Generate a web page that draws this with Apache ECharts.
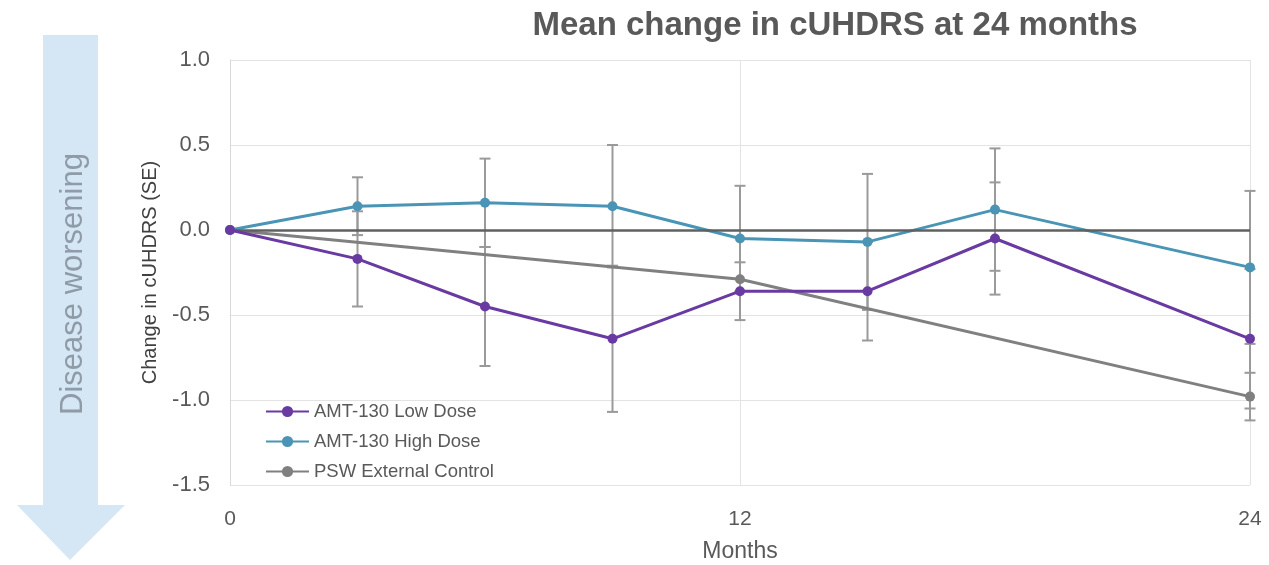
<!DOCTYPE html>
<html>
<head>
<meta charset="utf-8">
<script src="https://cdn.jsdelivr.net/npm/echarts@6/dist/echarts.min.js"></script>
<style>
html,body{margin:0;padding:0;background:#fff;}
#chart{width:1269px;height:565px;}
</style>
</head>
<body>
<div id="chart"></div>
<script>
// ---- data ----
const months = [0, 3, 6, 9, 12, 15, 18, 24];
const lowDose = [0, -0.17, -0.45, -0.64, -0.36, -0.36, -0.05, -0.64];
const lowDoseSE = [null, 0.28, 0.35, 0.43, 0.17, 0.29, 0.33, 0.41];
const highDose = [0, 0.14, 0.16, 0.14, -0.05, -0.07, 0.12, -0.22];
const highDoseSE = [null, 0.17, 0.26, 0.36, 0.31, 0.40, 0.36, 0.45];
const pswMonths = [0, 12, 24];
const psw = [0, -0.29, -0.98];
const pswSE = [null, null, 0.14];
const xTicks = [0, 12, 24];
const seriesNames = ['AMT-130 Low Dose', 'AMT-130 High Dose', 'PSW External Control'];

const colors = ['#6a3aa3', '#4a94b6', '#808080'];

function pairs(xs, ys) { return xs.map((x, i) => [x, ys[i]]); }
function errData(xs, ys, se) {
  const out = [];
  xs.forEach((x, i) => { if (se[i] != null) out.push([x, ys[i] + se[i], ys[i] - se[i]]); });
  return out;
}
const allErr = [].concat(
  errData(months, highDose, highDoseSE),
  errData(months, lowDose, lowDoseSE),
  errData(pswMonths, psw, pswSE)
);

function renderErr(params, api) {
  const x = api.value(0);
  const top = api.coord([x, api.value(1)]);
  const bot = api.coord([x, api.value(2)]);
  const hw = 5.5;
  const style = { stroke: '#9a9a9a', lineWidth: 2 };
  return {
    type: 'group',
    children: [
      { type: 'line', shape: { x1: top[0], y1: top[1], x2: bot[0], y2: bot[1] }, style: style },
      { type: 'line', shape: { x1: top[0] - hw, y1: top[1], x2: top[0] + hw, y2: top[1] }, style: style },
      { type: 'line', shape: { x1: bot[0] - hw, y1: bot[1], x2: bot[0] + hw, y2: bot[1] }, style: style }
    ]
  };
}

const FF = '"Liberation Sans", Arial, sans-serif';
const chart = echarts.init(document.getElementById('chart'));
const txt = '#595959';
chart.setOption({
  animation: false,
  backgroundColor: '#fff',
  title: {
    text: 'Mean change in cUHDRS at 24 months',
    left: 830, top: 4, textAlign: 'center',
    textStyle: { fontFamily: FF, fontSize: 33, fontWeight: 'bold', color: '#595959' }
  },
  graphic: [
    {
      type: 'polygon', z: -1,
      shape: { points: [[43, 35], [98, 35], [98, 505], [125, 505], [70, 560], [17, 505], [43, 505]] },
      style: { fill: '#d5e7f5' }
    },
    {
      type: 'text', x: 73, y: 284, rotation: Math.PI / 2,
      style: { text: 'Disease worsening', fill: '#8f9ba6', font: '31px ' + FF, align: 'center', verticalAlign: 'middle' }
    }
  ],
  legend: {
    orient: 'vertical', left: 260, top: 397,
    itemWidth: 43, itemHeight: 14, itemGap: 11,
    data: seriesNames,
    textStyle: { fontFamily: FF, fontSize: 18.5, color: txt }
  },
  grid: { left: 230, right: 19, top: 60, bottom: 80, containLabel: false, outerBoundsMode: 'none' },
  xAxis: {
    type: 'value', min: 0, max: 24, interval: 12,
    name: 'Months', nameLocation: 'middle', nameGap: 55,
    nameTextStyle: { fontFamily: FF, fontSize: 23, color: txt },
    axisLine: { show: true, lineStyle: { color: '#d9d9d9' } },
    axisTick: { show: false },
    axisLabel: { fontFamily: FF, fontSize: 21, color: txt, margin: 24,
      formatter: v => (xTicks.indexOf(v) >= 0 ? String(v) : '') },
    splitLine: { show: true, lineStyle: { color: '#e3e3e3' } }
  },
  yAxis: {
    type: 'value', min: -1.5, max: 1.0, interval: 0.5,
    name: 'Change in cUHDRS (SE)', nameLocation: 'middle', nameGap: 70,
    nameTextStyle: { fontFamily: FF, fontSize: 20, color: '#404040' },
    axisLine: { show: true, lineStyle: { color: '#d9d9d9' } },
    axisTick: { show: false },
    axisLabel: { fontFamily: FF, fontSize: 22, color: txt, margin: 20,
      formatter: v => v.toFixed(1) },
    splitLine: { show: true, lineStyle: { color: '#e3e3e3' } }
  },
  series: [
    {
      type: 'custom', name: 'err', renderItem: renderErr, data: allErr, z: 1, silent: true,
      encode: { x: 0, y: [1, 2] }
    },
    {
      name: seriesNames[2], type: 'line', data: pairs(pswMonths, psw), z: 3,
      color: colors[2], symbol: 'circle', symbolSize: 10, lineStyle: { width: 3 },
      markLine: {
        silent: true, symbol: 'none', label: { show: false },
        lineStyle: { color: '#606060', width: 2.5, type: 'solid' },
        data: [{ yAxis: 0 }]
      }
    },
    {
      name: seriesNames[1], type: 'line', data: pairs(months, highDose), z: 4,
      color: colors[1], symbol: 'circle', symbolSize: 10, lineStyle: { width: 3 }
    },
    {
      name: seriesNames[0], type: 'line', data: pairs(months, lowDose), z: 5,
      color: colors[0], symbol: 'circle', symbolSize: 10, lineStyle: { width: 3 }
    }
  ]
});
</script>
</body>
</html>
